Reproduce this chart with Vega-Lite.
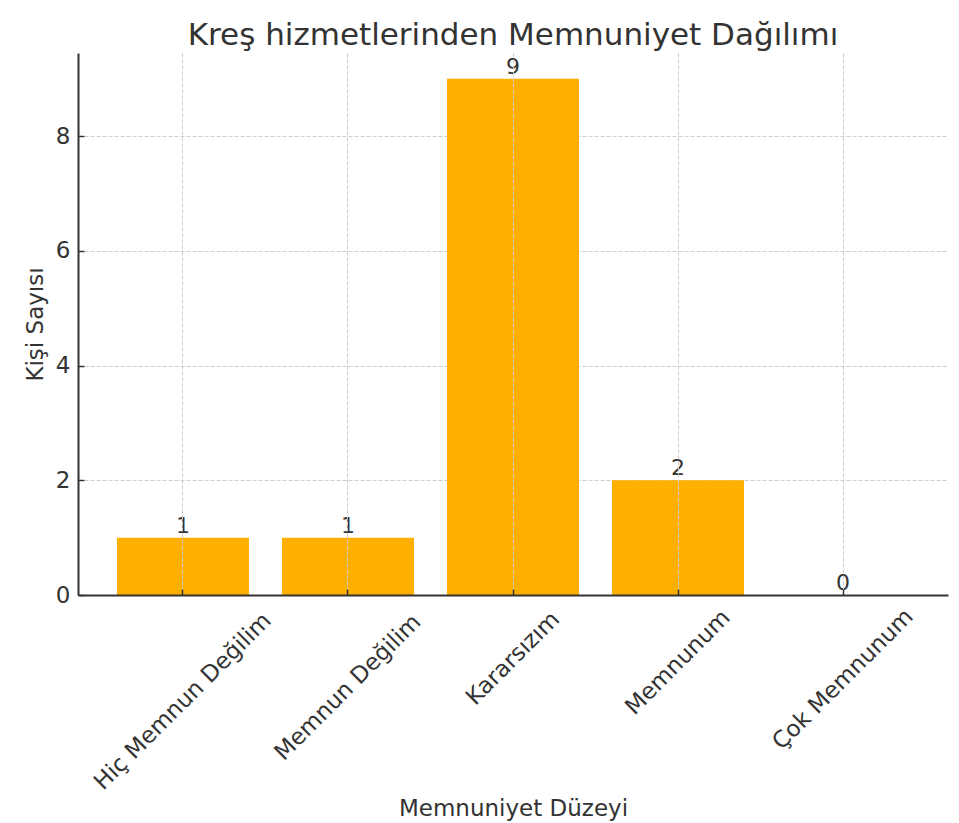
{
  "$schema": "https://vega.github.io/schema/vega-lite/v6.json",
  "width": 870,
  "height": 542,
  "autosize": {"type": "none"},
  "padding": {"left": 78, "top": 53, "right": 11, "bottom": 228},
  "background": "white",
  "config": {"view": {"stroke": null}, "font": "DejaVu Sans"},
  "title": {
    "text": "Kreş hizmetlerinden Memnuniyet Dağılımı",
    "fontSize": 31,
    "font": "DejaVu Sans",
    "fontWeight": "normal",
    "color": "#333333",
    "anchor": "middle",
    "baseline": "alphabetic",
    "offset": 11,
    "dy": 34
  },
  "data": {
    "values": [
      {"duzey": "Hiç Memnun Değilim", "sayi": 1},
      {"duzey": "Memnun Değilim", "sayi": 1},
      {"duzey": "Kararsızım", "sayi": 9},
      {"duzey": "Memnunum", "sayi": 2},
      {"duzey": "Çok Memnunum", "sayi": 0}
    ]
  },
  "encoding": {
    "x": {
      "field": "duzey",
      "type": "nominal",
      "sort": ["Hiç Memnun Değilim", "Memnun Değilim", "Kararsızım", "Memnunum", "Çok Memnunum"],
      "scale": {"paddingInner": 0.2, "paddingOuter": 0.236},
      "axis": {
        "title": "Memnuniyet Düzeyi",
        "titleFontSize": 23,
        "titleFont": "DejaVu Sans",
        "titleFontWeight": "normal",
        "titleColor": "#333333",
        "titleY": 220,
        "titleBaseline": "alphabetic",
        "labelAngle": -45,
        "labelAlign": "center",
        "labelBaseline": "middle",
        "labelFontSize": 23,
        "labelFont": "DejaVu Sans",
        "labelColor": "#333333",
        "labelLimit": 500,
        "labelPadding": {
          "condition": [
            {"test": "datum.value === 'Hiç Memnun Değilim'", "value": 112},
            {"test": "datum.value === 'Memnun Değilim'", "value": 98},
            {"test": "datum.value === 'Kararsızım'", "value": 69},
            {"test": "datum.value === 'Memnunum'", "value": 73}
          ],
          "value": 90
        },
        "bandPosition": 0.5,
        "grid": true,
        "gridDash": [4, 2],
        "gridColor": "#cccccc",
        "gridWidth": 1,
        "tickSize": -6,
        "tickColor": "#333333",
        "tickWidth": 1.5,
        "domainColor": "#333333",
        "domainWidth": 2,
        "zindex": 1
      }
    },
    "y": {
      "field": "sayi",
      "type": "quantitative",
      "scale": {"domain": [0, 9.45], "nice": false, "zero": true},
      "axis": {
        "title": "Kişi Sayısı",
        "titleFontSize": 23,
        "titleFont": "DejaVu Sans",
        "titleFontWeight": "normal",
        "titleColor": "#333333",
        "titleX": -43,
        "titleAngle": -90,
        "titleAlign": "center",
        "titleBaseline": "middle",
        "values": [0, 2, 4, 6, 8],
        "labelFontSize": 23,
        "labelFont": "DejaVu Sans",
        "labelColor": "#333333",
        "labelPadding": 14,
        "grid": true,
        "gridDash": [4, 2],
        "gridColor": "#cccccc",
        "gridWidth": 1,
        "tickSize": -6,
        "tickColor": "#333333",
        "tickWidth": 1.5,
        "domainColor": "#333333",
        "domainWidth": 2
      }
    }
  },
  "layer": [
    {"mark": {"type": "bar", "color": "#FFAF00"}},
    {
      "mark": {"type": "text", "baseline": "bottom", "align": "center", "fontSize": 22, "font": "DejaVu Sans", "color": "#333333"},
      "encoding": {"text": {"field": "sayi", "type": "quantitative"}}
    }
  ]
}
